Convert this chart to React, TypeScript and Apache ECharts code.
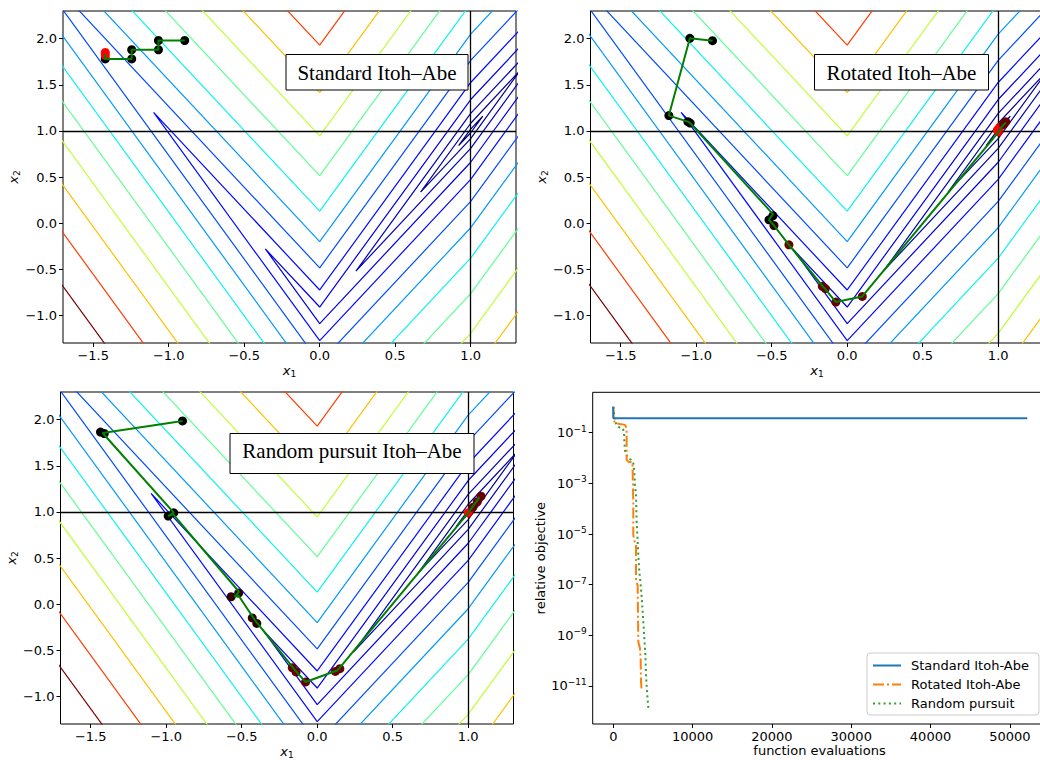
import React, { useEffect, useRef } from "react";
import * as echarts from "echarts";

// ---------------- data ----------------
// contour levels of the objective and their jet colours
const CONTOUR_LEVELS = [0.02, 0.083, 0.19, 0.34, 0.525, 0.765, 1.05, 1.38, 1.765, 2.195, 2.665, 3.18, 3.76];
const CONTOUR_COLORS = ["#000080", "#000093", "#0000b4", "#0000e3", "#000aff", "#004cff", "#0099ff", "#0bf4eb", "#60ff96", "#bfff38", "#ffc000", "#ff3d00", "#800000"];
// polyline vertices (x1, x2) of each contour level
const CONTOUR_PATHS: number[][][] = [
  [[0.92, 0.84], [1, 1.02], [1.08, 1.16], [1, 0.98], [0.92, 0.84]],
  [[0.668, 0.336], [1, 1.083], [1.332, 1.664], [1, 0.917], [0.668, 0.336]],
  [[0.24, -0.52], [1, 1.19], [1.76, 2.52], [1, 0.81], [0.24, -0.52]],
  [[-0.36, -0.28], [0, -0.91], [1, 1.34], [2.36, 3.72], [1, 0.66], [0, -1.09], [-0.36, -0.28]],
  [[-1.1, 1.2], [0, -0.725], [1, 1.525], [3.1, 5.2], [1, 0.475], [0, -1.275], [-1.1, 1.2]],
  [[-2.06, 3.12], [0, -0.485], [1, 1.765], [4.06, 7.12], [1, 0.235], [0, -1.515], [-2.06, 3.12]],
  [[-3.2, 5.4], [0, -0.2], [1, 2.05], [5.2, 9.4], [1, -0.05], [0, -1.8], [-3.2, 5.4]],
  [[-4.52, 8.04], [0, 0.13], [1, 2.38], [6.52, 12.04], [1, -0.38], [0, -2.13], [-4.52, 8.04]],
  [[-6.06, 11.12], [0, 0.515], [1, 2.765], [8.06, 15.12], [1, -0.765], [0, -2.515], [-6.06, 11.12]],
  [[-7.78, 14.56], [0, 0.945], [1, 3.195], [9.78, 18.56], [1, -1.195], [0, -2.945], [-7.78, 14.56]],
  [[-9.66, 18.32], [0, 1.415], [1, 3.665], [11.66, 22.32], [1, -1.665], [0, -3.415], [-9.66, 18.32]],
  [[-11.72, 22.44], [0, 1.93], [1, 4.18], [13.72, 26.44], [1, -2.18], [0, -3.93], [-11.72, 22.44]],
  [[-14.04, 27.08], [0, 2.51], [1, 4.76], [16.04, 31.08], [1, -2.76], [0, -4.51], [-14.04, 27.08]],
];

const X1_TICKS = [-1.5, -1.0, -0.5, 0, 0.5, 1.0];
const X2_TICKS = [-1.0, -0.5, 0, 0.5, 1.0, 1.5, 2.0];
const MINIMIZER = [1, 1];

// iterates: [x1, x2, stage]  (stage 0 early ... 3 final)
const STD_PATH = [[-0.894, 1.98], [-1.068, 1.98], [-1.068, 1.88], [-1.245, 1.88], [-1.245, 1.78], [-1.42, 1.78], [-1.42, 1.835]];
const STD_DOTS = [[-0.894, 1.98, 0], [-1.068, 1.98, 0], [-1.068, 1.88, 0], [-1.245, 1.88, 0], [-1.245, 1.78, 0], [-1.42, 1.78, 0], [-1.42, 1.82, 3], [-1.42, 1.85, 3]];

const ROT_PATH = [[-0.892, 1.978], [-1.042, 2.004], [-1.181, 1.166], [-1.055, 1.1], [-1.04, 1.085], [-0.492, 0.098], [-0.518, 0.036], [-0.485, -0.026], [-0.386, -0.235], [-0.16, -0.69], [-0.15, -0.705], [-0.075, -0.856], [0.1, -0.795], [1.0, 0.985], [1.02, 1.04], [1.05, 1.09]];
const ROT_DOTS = [[-0.892, 1.978, 0], [-1.042, 2.004, 0], [-1.181, 1.166, 0], [-1.055, 1.1, 0], [-1.04, 1.085, 0], [-0.492, 0.08, 0], [-0.518, 0.036, 0], [-0.485, -0.026, 1], [-0.386, -0.235, 2], [-0.165, -0.685, 2], [-0.145, -0.71, 2], [-0.075, -0.856, 2], [0.1, -0.795, 2], [1.0, 0.99, 3], [0.995, 1.01, 3], [1.01, 1.04, 3], [1.035, 1.07, 2], [1.05, 1.1, 2]];

const RND_PATH = [[-0.892, 1.986], [-1.421, 1.855], [-0.95, 0.992], [-0.987, 0.955], [-0.955, 0.975], [-0.518, 0.134], [-0.547, 0.08], [-0.52, 0.09], [-0.41, -0.18], [-0.14, -0.73], [-0.077, -0.844], [0.136, -0.717], [1.0, 0.99], [1.075, 1.16]];
const RND_DOTS = [[-0.892, 1.986, 0], [-1.435, 1.865, 0], [-1.41, 1.85, 0], [-0.987, 0.955, 0], [-0.95, 0.99, 0], [-0.57, 0.08, 1], [-0.52, 0.12, 1], [-0.43, -0.15, 1], [-0.4, -0.21, 1], [-0.165, -0.69, 2], [-0.14, -0.735, 2], [-0.077, -0.844, 2], [0.12, -0.73, 2], [0.15, -0.7, 2], [1.0, 0.99, 3], [1.03, 1.05, 2], [1.06, 1.11, 2], [1.085, 1.17, 2]];

// convergence curves
const EVAL_TICKS = [0, 10000, 20000, 30000, 40000, 50000];
const OBJ_TICKS = [1e-1, 1e-3, 1e-5, 1e-7, 1e-9, 1e-11];
const STD_EVALS = [0, 0, 10, 52200];
const STD_OBJ = [1.06, 0.6, 0.375, 0.375];
const ROT_EVALS = [0, 0, 210, 840, 1470, 1680, 1680, 1890, 2400, 2440, 2520, 2520, 2690, 2860, 2860, 3070, 3150, 3360, 3450, 3490, 3570];
const ROT_OBJ = [1.06, 0.375, 0.238, 0.219, 0.204, 0.151, 8.5e-3, 7.2e-3, 6.8e-3, 2.9e-3, 1.4e-4, 9.1e-6, 5.0e-6, 3.7e-6, 1.3e-7, 9.8e-8, 5.6e-10, 3.1e-10, 1.2e-10, 1.5e-11, 6.9e-12];
const RND_EVALS = [0, 210, 630, 1180, 1350, 1390, 1510, 1890, 2230, 2520, 2650, 2730, 2860, 2940, 3070, 3150, 3280, 3450, 3620, 3780, 3910, 4040, 4120, 4250, 4420];
const RND_OBJ = [1.06, 0.27, 0.17, 0.15, 0.11, 4.5e-2, 1.55e-2, 9.8e-3, 8.5e-3, 6.2e-3, 2.9e-3, 8.5e-4, 3.5e-4, 3.1e-5, 5.0e-6, 1.5e-6, 3.2e-7, 9.8e-8, 2.1e-8, 3.5e-9, 7.6e-10, 1.7e-10, 2.7e-11, 5.9e-12, 1.3e-12];

const METHOD_NAMES = ["Standard Itoh-Abe", "Rotated Itoh-Abe", "Random pursuit"];
const PANEL_TITLES = ["Standard Itoh\u2013Abe", "Rotated Itoh\u2013Abe", "Random pursuit Itoh\u2013Abe"];

// ---------------- layout & style ----------------
const FONT = "DejaVu Sans";
const GRIDS = [
  { left: 63, top: 11, width: 453, height: 332 },
  { left: 590.5, top: 11, width: 453, height: 332 },
  { left: 60.5, top: 392, width: 453, height: 332 },
  { left: 592.7, top: 392.3, width: 453.6, height: 331.7 },
];
const TITLE_BOXES = [
  { x: 286, y: 54.5, w: 182, h: 35.5, cy: 72.5 },
  { x: 814.5, y: 54.5, w: 174, h: 35.5, cy: 72.5 },
  { x: 230, y: 433.5, w: 244, h: 40, cy: 451 },
];
const DOT_COLORS = ["#000000", "#2e0000", "#6a0000", "#ff0000"];
const PATH_COLOR = "#008000";
const METHOD_COLORS = ["#1f77b4", "#ff7f0e", "#2ca02c"];
const METHOD_DASH: any[] = ["solid", [11, 3, 2, 3], [2, 3.3]];

const fmtSigned = (v: number) => (v < 0 ? "\u2212" : "") + Math.abs(v).toFixed(1);
const subRich = {
  i: { fontFamily: FONT, fontStyle: "italic", fontSize: 13, color: "#000" },
  s: { fontFamily: FONT, fontSize: 9, color: "#000", padding: [7, 0, 0, 0] },
};
const tickStyle = { show: true, length: 4, lineStyle: { color: "#000", width: 1 } };
const labelBase = { color: "#000", fontFamily: FONT, fontSize: 13 };
const hiddenLine = { show: false, onZero: false };

function contourX(i: number) {
  return {
    type: "value", gridIndex: i, min: -1.7, max: 1.3,
    axisLine: hiddenLine, splitLine: { show: false },
    axisTick: { ...tickStyle, customValues: X1_TICKS },
    axisLabel: { ...labelBase, customValues: X1_TICKS, formatter: fmtSigned, margin: 6 },
    name: "{i|x}{s|1}", nameLocation: "middle", nameGap: 19,
    nameTextStyle: { rich: subRich },
  };
}
function contourY(i: number) {
  return {
    type: "value", gridIndex: i, min: -1.3, max: 2.3,
    axisLine: hiddenLine, splitLine: { show: false },
    axisTick: { ...tickStyle, customValues: X2_TICKS },
    axisLabel: { ...labelBase, customValues: X2_TICKS, formatter: fmtSigned, margin: 6 },
    name: "{i|x}{s|2}", nameLocation: "middle", nameGap: 40,
    nameTextStyle: { rich: subRich },
  };
}

function buildOption() {
  const series: any[] = [];
  const panels = [
    { path: STD_PATH, dots: STD_DOTS },
    { path: ROT_PATH, dots: ROT_DOTS },
    { path: RND_PATH, dots: RND_DOTS },
  ];
  panels.forEach((p, i) => {
    CONTOUR_PATHS.forEach((pts, k) => {
      series.push({
        type: "line", name: "level " + CONTOUR_LEVELS[k], xAxisIndex: i, yAxisIndex: i,
        data: pts, symbol: "none", showSymbol: false, silent: true, clip: true, z: 1,
        lineStyle: { color: CONTOUR_COLORS[k], width: 1.2 },
      });
    });
    series.push({
      type: "line", xAxisIndex: i, yAxisIndex: i, data: [MINIMIZER], symbol: "none", silent: true, z: 2,
      markLine: {
        symbol: "none", silent: true, z: 2, animation: false, label: { show: false },
        lineStyle: { color: "#000", width: 1.3, type: "solid" },
        data: [{ xAxis: MINIMIZER[0] }, { yAxis: MINIMIZER[1] }],
      },
    });
    series.push({
      type: "scatter", xAxisIndex: i, yAxisIndex: i, symbolSize: 9, silent: true, z: 3,
      data: p.dots.map((d) => ({ value: [d[0], d[1]], itemStyle: { color: DOT_COLORS[d[2]], opacity: 1 } })),
      itemStyle: { opacity: 1 },
    });
    series.push({
      type: "line", xAxisIndex: i, yAxisIndex: i, data: p.path, symbol: "none", showSymbol: false, silent: true, z: 4,
      lineStyle: { color: PATH_COLOR, width: 2 },
    });
  });

  const curves = [
    [STD_EVALS, STD_OBJ],
    [ROT_EVALS, ROT_OBJ],
    [RND_EVALS, RND_OBJ],
  ];
  curves.forEach(([xs, ys], m) => {
    series.push({
      type: "line", name: METHOD_NAMES[m], xAxisIndex: 3, yAxisIndex: 3,
      data: xs.map((x, j) => [x, ys[j]]), symbol: "none", showSymbol: false, silent: true, z: 3 - m,
      lineStyle: { color: METHOD_COLORS[m], width: 2, type: METHOD_DASH[m] },
      itemStyle: { color: METHOD_COLORS[m] },
    });
  });

  const graphic: any[] = [];
  TITLE_BOXES.forEach((b, i) => {
    graphic.push({
      type: "rect", z: 100, silent: true,
      shape: { x: b.x, y: b.y, width: b.w, height: b.h },
      style: { fill: "#fff", stroke: "#000", lineWidth: 1 },
    });
    graphic.push({
      type: "text", z: 101, silent: true, x: b.x + b.w / 2, y: b.cy,
      style: { text: PANEL_TITLES[i], font: '21px "Liberation Serif"', fill: "#000", align: "center", verticalAlign: "middle" },
    });
  });

  return {
    animation: false,
    backgroundColor: "#fff",
    grid: GRIDS.map((g) => ({ ...g, show: true, borderColor: "#000", borderWidth: 1, backgroundColor: "transparent", containLabel: false, outerBoundsMode: "none" })),
    xAxis: [
      contourX(0), contourX(1), contourX(2),
      {
        type: "value", gridIndex: 3, min: -2600, max: 54600,
        axisLine: hiddenLine, splitLine: { show: false },
        axisTick: { ...tickStyle, customValues: EVAL_TICKS },
        axisLabel: { ...labelBase, customValues: EVAL_TICKS, formatter: (v: number) => String(v), margin: 6 },
        name: "function evaluations", nameLocation: "middle", nameGap: 19,
        nameTextStyle: { fontFamily: FONT, fontSize: 13, color: "#000" },
      },
    ],
    yAxis: [
      contourY(0), contourY(1), contourY(2),
      {
        type: "log", logBase: 10, gridIndex: 3, min: 3.16e-13, max: 3.94,
        axisLine: hiddenLine, splitLine: { show: false }, minorTick: { show: false },
        axisTick: { ...tickStyle, customValues: OBJ_TICKS },
        axisLabel: {
          ...labelBase, customValues: OBJ_TICKS, margin: 6,
          formatter: (v: number) => "{b|10}{s|\u2212" + Math.round(-Math.log10(v)) + "}",
          rich: {
            b: { fontFamily: FONT, fontSize: 13, color: "#000" },
            s: { fontFamily: FONT, fontSize: 9, color: "#000", padding: [0, 0, 8, 0] },
          },
        },
        name: "relative objective", nameLocation: "middle", nameGap: 44,
        nameTextStyle: { fontFamily: FONT, fontSize: 13, color: "#000" },
      },
    ],
    legend: {
      data: METHOD_NAMES, orient: "vertical", left: 867, top: 653,
      itemWidth: 28, itemHeight: 14, itemGap: 6,
      itemStyle: { color: "transparent", borderColor: "transparent", borderWidth: 0, opacity: 0 },
      backgroundColor: "#fff", borderColor: "#cccccc", borderWidth: 1, borderRadius: 3,
      padding: [6, 10, 5, 5], selectedMode: false,
      textStyle: { fontFamily: FONT, fontSize: 13, color: "#000", padding: [0, 0, 0, 5] },
    },
    graphic,
    series,
  };
}

export default function App() {
  const ref = useRef<HTMLDivElement>(null);
  useEffect(() => {
    const chart = echarts.init(ref.current as HTMLDivElement, null, { renderer: "svg" });
    chart.setOption(buildOption() as any);
    return () => chart.dispose();
  }, []);
  return (
    <div
      ref={ref}
      style={{ position: "absolute", left: 0, top: 0, width: 1040, height: 760, background: "#fff" }}
    />
  );
}
